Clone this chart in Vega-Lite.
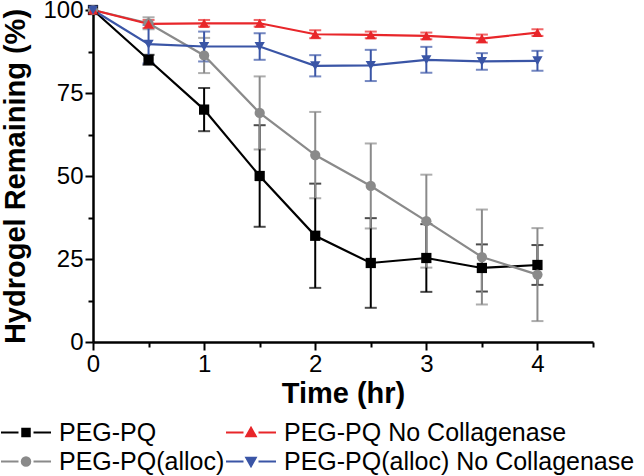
{
  "$schema": "https://vega.github.io/schema/vega-lite/v6.json",
  "width": 500,
  "height": 332,
  "autosize": "none",
  "padding": {"left": 93, "top": 10, "right": 51, "bottom": 134},
  "background": "white",
  "config": {
    "font": "Liberation Sans",
    "view": {"stroke": null},
    "axis": {"labelFont": "Liberation Sans", "titleFont": "Liberation Sans", "labelColor": "black", "titleColor": "black", "tickColor": "black", "domainColor": "black", "grid": false}
  },
  "data": {
    "values": [
      {"s": "PEG-PQ", "t": 0, "v": 100, "lo": 100, "hi": 100},
      {"s": "PEG-PQ", "t": 0.5, "v": 85, "lo": 83.5, "hi": 86.5},
      {"s": "PEG-PQ", "t": 1, "v": 70, "lo": 63.5, "hi": 76.5},
      {"s": "PEG-PQ", "t": 1.5, "v": 50, "lo": 34.7, "hi": 65.3},
      {"s": "PEG-PQ", "t": 2, "v": 32, "lo": 16.3, "hi": 47.7},
      {"s": "PEG-PQ", "t": 2.5, "v": 23.8, "lo": 10.3, "hi": 37.3},
      {"s": "PEG-PQ", "t": 3, "v": 25.3, "lo": 15.1, "hi": 35.5},
      {"s": "PEG-PQ", "t": 3.5, "v": 22.3, "lo": 15.2, "hi": 29.4},
      {"s": "PEG-PQ", "t": 4, "v": 23.2, "lo": 17.2, "hi": 29.2},
      {"s": "PEG-PQ(alloc)", "t": 0, "v": 100, "lo": 100, "hi": 100},
      {"s": "PEG-PQ(alloc)", "t": 0.5, "v": 96, "lo": 94.2, "hi": 97.8},
      {"s": "PEG-PQ(alloc)", "t": 1, "v": 86.3, "lo": 81, "hi": 91.6},
      {"s": "PEG-PQ(alloc)", "t": 1.5, "v": 69, "lo": 58, "hi": 80},
      {"s": "PEG-PQ(alloc)", "t": 2, "v": 56.3, "lo": 43.3, "hi": 69.3},
      {"s": "PEG-PQ(alloc)", "t": 2.5, "v": 47, "lo": 34.2, "hi": 59.8},
      {"s": "PEG-PQ(alloc)", "t": 3, "v": 36.4, "lo": 22.4, "hi": 50.4},
      {"s": "PEG-PQ(alloc)", "t": 3.5, "v": 25.6, "lo": 11.3, "hi": 39.9},
      {"s": "PEG-PQ(alloc)", "t": 4, "v": 20.3, "lo": 6.3, "hi": 34.3},
      {"s": "PEG-PQ No Collagenase", "t": 0, "v": 100, "lo": 100, "hi": 100},
      {"s": "PEG-PQ No Collagenase", "t": 0.5, "v": 95.8, "lo": 94.6, "hi": 97},
      {"s": "PEG-PQ No Collagenase", "t": 1, "v": 96, "lo": 95, "hi": 97},
      {"s": "PEG-PQ No Collagenase", "t": 1.5, "v": 96, "lo": 95, "hi": 97},
      {"s": "PEG-PQ No Collagenase", "t": 2, "v": 92.7, "lo": 91.5, "hi": 93.9},
      {"s": "PEG-PQ No Collagenase", "t": 2.5, "v": 92.5, "lo": 91.5, "hi": 93.5},
      {"s": "PEG-PQ No Collagenase", "t": 3, "v": 92.2, "lo": 91.2, "hi": 93.2},
      {"s": "PEG-PQ No Collagenase", "t": 3.5, "v": 91.4, "lo": 90.2, "hi": 92.6},
      {"s": "PEG-PQ No Collagenase", "t": 4, "v": 93.2, "lo": 92.2, "hi": 94.2},
      {"s": "PEG-PQ(alloc) No Collagenase", "t": 0, "v": 100, "lo": 100, "hi": 100},
      {"s": "PEG-PQ(alloc) No Collagenase", "t": 0.5, "v": 89.7, "lo": 83.9, "hi": 95.5},
      {"s": "PEG-PQ(alloc) No Collagenase", "t": 1, "v": 89, "lo": 84.5, "hi": 93.5},
      {"s": "PEG-PQ(alloc) No Collagenase", "t": 1.5, "v": 89, "lo": 85, "hi": 93},
      {"s": "PEG-PQ(alloc) No Collagenase", "t": 2, "v": 83.2, "lo": 80, "hi": 86.4},
      {"s": "PEG-PQ(alloc) No Collagenase", "t": 2.5, "v": 83.3, "lo": 78.6, "hi": 88},
      {"s": "PEG-PQ(alloc) No Collagenase", "t": 3, "v": 85, "lo": 81.1, "hi": 88.9},
      {"s": "PEG-PQ(alloc) No Collagenase", "t": 3.5, "v": 84.5, "lo": 82, "hi": 87},
      {"s": "PEG-PQ(alloc) No Collagenase", "t": 4, "v": 84.7, "lo": 81.7, "hi": 87.7}
    ]
  },
  "layer": [
    {
      "transform": [{"filter": "datum.t > 0"}],
      "mark": {"type": "errorbar", "ticks": {"size": 12, "thickness": 2}, "thickness": 2},
      "encoding": {
        "x": {"field": "t", "type": "quantitative", "scale": {"domain": [0, 4.5], "nice": false},
          "axis": {"orient": "bottom", "values": [0.5, 1.5, 2.5, 3.5, 4.5], "labels": false, "domain": false, "tickSize": 5, "tickWidth": 2, "title": null}},
        "y": {"field": "lo", "type": "quantitative", "scale": {"domain": [0, 100], "nice": false},
          "axis": {"orient": "left", "values": [12.5, 37.5, 62.5, 87.5], "labels": false, "domain": false, "tickSize": 5, "tickWidth": 2, "title": null}},
        "y2": {"field": "hi"},
        "color": {"field": "s", "type": "nominal",
          "scale": {"domain": ["PEG-PQ", "PEG-PQ No Collagenase", "PEG-PQ(alloc)", "PEG-PQ(alloc) No Collagenase"],
                    "range": ["#000000", "#e8262a", "#8a8a8a", "#3a55a6"]},
          "legend": null}
      }
    },
    {
      "mark": {"type": "line", "strokeWidth": 2.2},
      "encoding": {
        "x": {"field": "t", "type": "quantitative",
          "axis": {"orient": "bottom", "values": [0, 1, 2, 3, 4], "format": "d", "tickSize": 8, "tickWidth": 2, "domainWidth": 2.5, "labelFontSize": 24, "labelPadding": 2, "labelFlush": false,
                   "title": "Time (hr)", "titleFontSize": 29, "titleFontWeight": "bold", "titlePadding": 3}},
        "y": {"field": "v", "type": "quantitative",
          "axis": {"orient": "left", "values": [0, 25, 50, 75, 100], "format": "d", "tickSize": 8, "tickWidth": 2, "domainWidth": 2.5, "labelFontSize": 24, "labelPadding": 2, "labelFlush": false,
                   "title": "Hydrogel Remaining (%)", "titleFontSize": 29, "titleFontWeight": "bold", "titlePadding": 12}},
        "color": {"field": "s", "type": "nominal", "legend": null}
      }
    },
    {
      "mark": {"type": "point", "filled": true, "opacity": 1, "size": 105},
      "encoding": {
        "x": {"field": "t", "type": "quantitative", "axis": null},
        "y": {"field": "v", "type": "quantitative", "axis": null},
        "color": {"field": "s", "type": "nominal", "legend": null},
        "shape": {"field": "s", "type": "nominal",
          "scale": {"domain": ["PEG-PQ", "PEG-PQ No Collagenase", "PEG-PQ(alloc)", "PEG-PQ(alloc) No Collagenase"],
                    "range": ["square", "triangle-up", "circle", "triangle-down"]},
          "legend": null}
      }
    },
    {
      "transform": [{"filter": "datum.t < 0"}],
      "mark": {"type": "point", "opacity": 1},
      "encoding": {
        "fill": {"field": "s", "type": "nominal",
          "scale": {"domain": ["PEG-PQ", "PEG-PQ No Collagenase", "PEG-PQ(alloc)", "PEG-PQ(alloc) No Collagenase"],
                    "range": ["#000000", "#e8262a", "#8a8a8a", "#3a55a6"]},
          "legend": {
            "orient": "none", "legendX": -93, "legendY": 408,
            "columns": 2, "direction": "horizontal", "title": null,
            "symbolSize": 2500, "symbolStrokeWidth": 2, "clipHeight": 29,
            "labelFontSize": 25, "labelFont": "Liberation Sans", "labelColor": "black", "labelLimit": 500,
            "labelOffset": 7, "columnPadding": 0, "rowPadding": 0
          }},
        "stroke": {"field": "s", "type": "nominal",
          "scale": {"domain": ["PEG-PQ", "PEG-PQ No Collagenase", "PEG-PQ(alloc)", "PEG-PQ(alloc) No Collagenase"],
                    "range": ["#000000", "#e8262a", "#8a8a8a", "#3a55a6"]},
          "legend": {
            "orient": "none", "legendX": -93, "legendY": 408,
            "columns": 2, "direction": "horizontal", "title": null,
            "symbolSize": 2500, "symbolStrokeWidth": 2, "clipHeight": 29,
            "labelFontSize": 25, "labelFont": "Liberation Sans", "labelColor": "black", "labelLimit": 500,
            "labelOffset": 7, "columnPadding": 0, "rowPadding": 0
          }},
        "shape": {"field": "s", "type": "nominal",
          "scale": {"domain": ["PEG-PQ", "PEG-PQ No Collagenase", "PEG-PQ(alloc)", "PEG-PQ(alloc) No Collagenase"],
                    "range": [
                      "M-1,0H-0.3M0.3,0H1M-0.15,-0.15H0.15V0.15H-0.15Z",
                      "M-1,0H-0.3M0.3,0H1M0,-0.19L0.19,0.15H-0.19Z",
                      "M-1,0H-0.3M0.3,0H1M-0.17,0A0.17,0.17 0 1,0 0.17,0A0.17,0.17 0 1,0 -0.17,0Z",
                      "M-1,0H-0.3M0.3,0H1M0,0.19L0.19,-0.15H-0.19Z"
                    ]},
          "legend": {
            "orient": "none", "legendX": -93, "legendY": 408,
            "columns": 2, "direction": "horizontal", "title": null,
            "symbolSize": 2500, "symbolStrokeWidth": 2, "clipHeight": 29,
            "labelFontSize": 25, "labelFont": "Liberation Sans", "labelColor": "black", "labelLimit": 500,
            "labelOffset": 7, "columnPadding": 0, "rowPadding": 0
          }
        }
      }
    }
  ],
  "resolve": {
    "scale": {"shape": "independent", "fill": "independent", "stroke": "independent"},
    "axis": {"x": "independent", "y": "independent"}
  }
}
